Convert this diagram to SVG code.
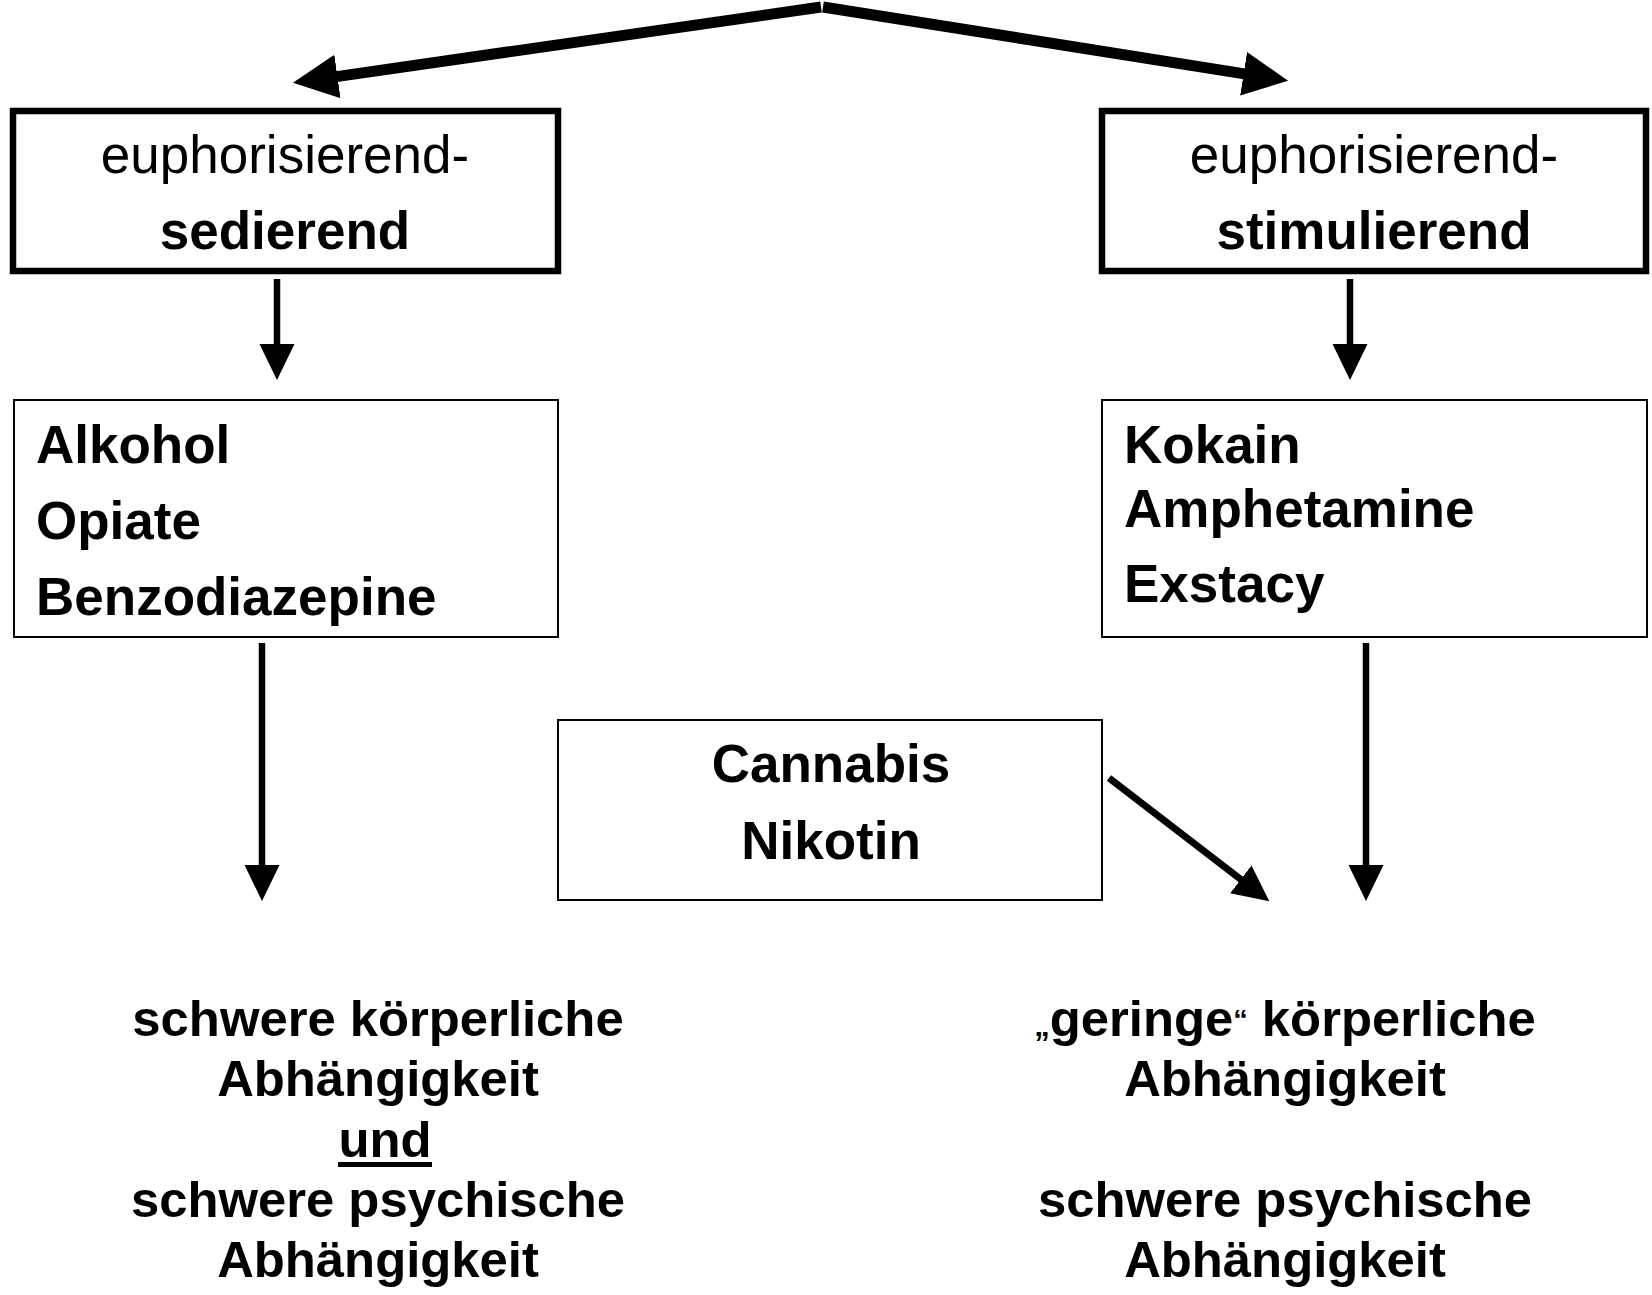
<svg xmlns="http://www.w3.org/2000/svg" width="1652" height="1295" viewBox="0 0 1652 1295">
  <style>
    text { font-family: "Liberation Sans", Arial, Helvetica, sans-serif; fill: #000; }
    .b { font-weight: bold; }
    .f53 { font-size: 53px; }
    .f50 { font-size: 50.8px; }
    .thick { fill: #fff; stroke: #000; stroke-width: 6.5; }
    .thin { fill: #fff; stroke: #000; stroke-width: 2; }
    .conn { stroke: #000; fill: none; }
  </style>
  <defs>
    <marker id="headBig" markerUnits="userSpaceOnUse" viewBox="0 -23 46 46" markerWidth="46" markerHeight="46" refX="1" refY="0" orient="auto">
      <path d="M0,-22 L45,0 L0,22 z" fill="#000"/>
    </marker>
    <marker id="head" markerUnits="userSpaceOnUse" viewBox="0 -18 37 36" markerWidth="37" markerHeight="36" refX="1" refY="0" orient="auto">
      <path d="M0,-17.5 L36,0 L0,17.5 z" fill="#000"/>
    </marker>
  </defs>
  <rect width="1652" height="1295" fill="#fff"/>

  <g id="connectors">
    <line class="conn" x1="821" y1="7" x2="336.5" y2="76.6" stroke-width="11" marker-end="url(#headBig)"/>
    <line class="conn" x1="823" y1="7" x2="1244.6" y2="73.9" stroke-width="11" marker-end="url(#headBig)"/>
    <line class="conn" x1="277" y1="279" x2="277" y2="345" stroke-width="6.5" marker-end="url(#head)"/>
    <line class="conn" x1="1350" y1="279" x2="1350" y2="345" stroke-width="6.5" marker-end="url(#head)"/>
    <line class="conn" x1="262" y1="643" x2="262" y2="866" stroke-width="6.5" marker-end="url(#head)"/>
    <line class="conn" x1="1366" y1="643" x2="1366" y2="866" stroke-width="6.5" marker-end="url(#head)"/>
    <line class="conn" x1="1109" y1="778" x2="1241.6" y2="880" stroke-width="7" marker-end="url(#head)"/>
  </g>

  <g id="node-sedierend">
    <rect class="thick" x="13" y="111" width="545" height="160"/>
    <text class="f53" x="285" y="173" text-anchor="middle">euphorisierend-</text>
    <text class="f53 b" x="285" y="249" text-anchor="middle">sedierend</text>
  </g>

  <g id="node-stimulierend">
    <rect class="thick" x="1102" y="111" width="544" height="160"/>
    <text class="f53" x="1374" y="173" text-anchor="middle">euphorisierend-</text>
    <text class="f53 b" x="1374" y="249" text-anchor="middle">stimulierend</text>
  </g>

  <g id="node-sedativa">
    <rect class="thin" x="14" y="400" width="544" height="237"/>
    <text class="f53 b" x="36" y="463">Alkohol</text>
    <text class="f53 b" x="36" y="539">Opiate</text>
    <text class="f53 b" x="36" y="615">Benzodiazepine</text>
  </g>

  <g id="node-stimulantia">
    <rect class="thin" x="1102" y="400" width="545" height="237"/>
    <text class="f53 b" x="1124" y="463">Kokain</text>
    <text class="f53 b" x="1124" y="527">Amphetamine</text>
    <text class="f53 b" x="1124" y="602">Exstacy</text>
  </g>

  <g id="node-cannabis">
    <rect class="thin" x="558" y="720" width="544" height="180"/>
    <text class="f53 b" x="831" y="782" text-anchor="middle">Cannabis</text>
    <text class="f53 b" x="831" y="859" text-anchor="middle">Nikotin</text>
  </g>

  <g id="node-result-left">
    <text class="f50 b" x="378" y="1036" text-anchor="middle">schwere körperliche</text>
    <text class="f50 b" x="378" y="1096" text-anchor="middle">Abhängigkeit</text>
    <text class="f50 b" x="385" y="1157" text-anchor="middle">und</text>
    <line x1="338" y1="1164.5" x2="432" y2="1164.5" stroke="#000" stroke-width="5"/>
    <text class="f50 b" x="378" y="1217" text-anchor="middle">schwere psychische</text>
    <text class="f50 b" x="378" y="1277" text-anchor="middle">Abhängigkeit</text>
  </g>

  <g id="node-result-right">
    <text class="f50 b" x="1285" y="1036" text-anchor="middle"><tspan font-size="31">„</tspan>geringe<tspan font-size="29" dy="-6">“</tspan><tspan dy="6"> körperliche</tspan></text>
    <text class="f50 b" x="1285" y="1096" text-anchor="middle">Abhängigkeit</text>
    <text class="f50 b" x="1285" y="1217" text-anchor="middle">schwere psychische</text>
    <text class="f50 b" x="1285" y="1277" text-anchor="middle">Abhängigkeit</text>
  </g>
</svg>
